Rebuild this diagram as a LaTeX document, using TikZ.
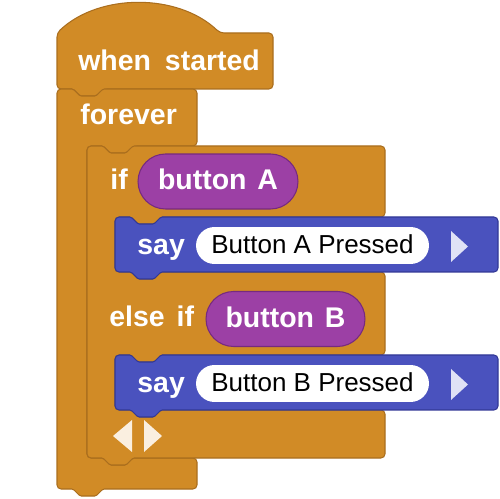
\documentclass[tikz,border=0pt]{standalone}
\usepackage{fontspec}
\setmainfont{Liberation Sans}
\usepackage{tikz}
\definecolor{ctlfill}{RGB}{209,139,38}
\definecolor{ctlline}{RGB}{170,110,30}
\definecolor{senfill}{RGB}{156,64,165}
\definecolor{senline}{RGB}{118,42,128}
\definecolor{sayfill}{RGB}{74,82,190}
\definecolor{sayline}{RGB}{50,56,150}
\definecolor{saytri}{RGB}{224,226,246}
\definecolor{ctltri}{RGB}{250,239,224}
\tikzset{
  ctl/.style  ={fill=ctlfill, draw=ctlline, line width=0.6pt, rounded corners=2.3pt},
  sayb/.style ={fill=sayfill, draw=sayline, line width=0.6pt, rounded corners=2.3pt},
  pill/.style ={fill=senfill, draw=senline, line width=0.6pt, rounded corners=0.55cm,
                minimum height=1.1cm, inner sep=0pt, text=white,
                font=\fontsize{16.2pt}{19pt}\selectfont\bfseries,
                text height=0.42cm, text depth=0.08cm},
  fld/.style  ={fill=white, rounded corners=0.37cm, minimum height=0.74cm,
                minimum width=4.66cm, inner sep=0pt,
                font=\fontsize{14.8pt}{17pt}\selectfont,
                text height=0.42cm, text depth=0.08cm},
  lab/.style  ={text=white, font=\fontsize{16.2pt}{19pt}\selectfont\bfseries,
                inner sep=0pt, anchor=base west},
}

\begin{document}
\begin{tikzpicture}[x=0.02cm, y=-0.02cm]
  \useasboundingbox (0,0) rectangle (500,499);
  % when started
  \draw[ctl] (57,33) .. controls (99,-7) and (178,-7) .. (220,33) -- (273,33)
    -- (273,89) -- (103,89) [rounded corners=0.8pt] -- (96,96) -- (80,96) -- (73,89)
    [rounded corners=2.3pt] -- (57,89) -- cycle;
  \node[lab] (when) at (78,71) {when\hspace{0.12cm} started};
  % forever
  \draw[ctl] (57,89) [rounded corners=0.8pt] -- (73,89) -- (80,96) -- (96,96) -- (103,89)
    [rounded corners=2.3pt] -- (197,89) -- (197,146) -- (133,146)
    [rounded corners=0.8pt] -- (126,153) -- (110,153) -- (103,146)
    [rounded corners=2.3pt] -- (87,146) -- (87,458)
    [rounded corners=0.8pt] -- (103,458) -- (110,465) -- (126,465) -- (133,458)
    [rounded corners=2.3pt] -- (197,458) -- (197,489)
    [rounded corners=0.8pt] -- (103,489) -- (96,496) -- (80,496) -- (73,489)
    [rounded corners=2.3pt] -- (57,489) -- cycle;
  \node[lab] (forever) at (80,125) {forever};
  % if / else if
  \draw[ctl] (87,146) [rounded corners=0.8pt] -- (103,146) -- (110,153) -- (126,153) -- (133,146)
    [rounded corners=2.3pt] -- (385,146) -- (385,217)
    [rounded corners=0.8pt] -- (161,217) -- (154,224) -- (138,224) -- (131,217)
    [rounded corners=2.3pt] -- (115,217) -- (115,272)
    [rounded corners=0.8pt] -- (131,272) -- (138,279) -- (154,279) -- (161,272)
    [rounded corners=2.3pt] -- (385,272) -- (385,355)
    [rounded corners=0.8pt] -- (161,355) -- (154,362) -- (138,362) -- (131,355)
    [rounded corners=2.3pt] -- (115,355) -- (115,410)
    [rounded corners=0.8pt] -- (131,410) -- (138,417) -- (154,417) -- (161,410)
    [rounded corners=2.3pt] -- (385,410) -- (385,458)
    [rounded corners=0.8pt] -- (133,458) -- (126,465) -- (110,465) -- (103,458)
    [rounded corners=2.3pt] -- (87,458) -- cycle;
  \node[lab] (if) at (110,190) {if};
  \node[pill, minimum width=3.2cm] (btnA) at (218,181.5) {button\hspace{0.06cm} A};
  \node[lab] (elseif) at (109,327) {else\hspace{0.08cm} if};
  \node[pill, minimum width=3.18cm] (btnB) at (285.5,319) {button\hspace{0.06cm} B};
  \fill[ctltri] (113,436) -- (132,420) -- (132,452) -- cycle;
  \fill[ctltri] (162,436) -- (144,420) -- (144,452) -- cycle;
  % say A
  \draw[sayb] (115,217) [rounded corners=0.8pt] -- (131,217) -- (138,224) -- (154,224) -- (161,217)
    [rounded corners=2.3pt] -- (498,217) -- (498,272)
    [rounded corners=0.8pt] -- (161,272) -- (154,279) -- (138,279) -- (131,272)
    [rounded corners=2.3pt] -- (115,272) -- cycle;
  \node[lab] (sayA) at (137,255) {say};
  \node[fld] (txtA) at (312.5,245.5) {Button A Pressed};
  \fill[saytri] (451,231) -- (468,246.5) -- (451,262) -- cycle;
  % say B
  \draw[sayb] (115,355) [rounded corners=0.8pt] -- (131,355) -- (138,362) -- (154,362) -- (161,355)
    [rounded corners=2.3pt] -- (498,355) -- (498,410)
    [rounded corners=0.8pt] -- (161,410) -- (154,417) -- (138,417) -- (131,410)
    [rounded corners=2.3pt] -- (115,410) -- cycle;
  \node[lab] (sayB) at (137,393) {say};
  \node[fld] (txtB) at (312.5,383.5) {Button B Pressed};
  \fill[saytri] (451,369) -- (468,384.5) -- (451,400) -- cycle;
\end{tikzpicture}
\end{document}
